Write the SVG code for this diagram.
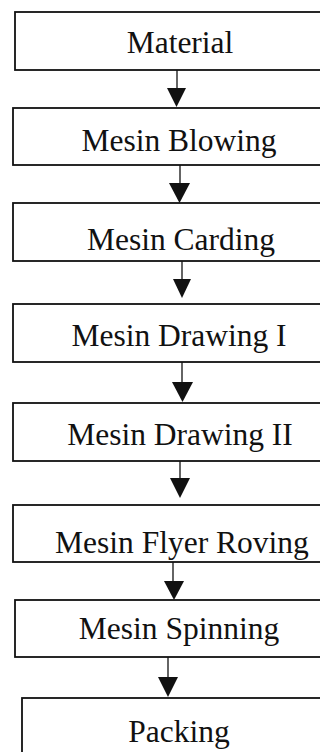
<svg xmlns="http://www.w3.org/2000/svg" width="320" height="752" viewBox="0 0 320 752">
<style>
.box{fill:#fff;stroke:#111;stroke-width:1.8}
.lbl{font-family:"Liberation Serif","Times New Roman",serif;font-size:31.5px;fill:#111;text-anchor:middle}
.ln{stroke:#111;stroke-width:1.3;fill:none}
.hd{fill:#111}
</style>
<rect width="320" height="752" fill="#fff"/>
<g id="connectors">
<line class="ln" x1="177" y1="70" x2="177" y2="90"/><polygon class="hd" points="167,88 186,88 176.5,107"/>
<line class="ln" x1="180" y1="165" x2="180" y2="185"/><polygon class="hd" points="169,183 190,183 179.5,203"/>
<line class="ln" x1="182" y1="261" x2="182" y2="280"/><polygon class="hd" points="173,279 191,279 182,298"/>
<line class="ln" x1="182" y1="362" x2="182" y2="384"/><polygon class="hd" points="172,382 193,382 182.5,402"/>
<line class="ln" x1="180" y1="461" x2="180" y2="480"/><polygon class="hd" points="170,478 190,478 180,498"/>
<line class="ln" x1="173" y1="562" x2="173" y2="583"/><polygon class="hd" points="164,581 184,581 174,600"/>
<line class="ln" x1="168" y1="657" x2="168" y2="679"/><polygon class="hd" points="158,677 178,677 168,697"/>
</g>
<g id="n1"><rect class="box" x="15" y="12" width="320" height="58"/><text class="lbl" x="180" y="53">Material</text></g>
<g id="n2"><rect class="box" x="13" y="108" width="322" height="57"/><text class="lbl" x="179" y="151">Mesin Blowing</text></g>
<g id="n3"><rect class="box" x="13" y="203" width="322" height="58"/><text class="lbl" x="181" y="250">Mesin Carding</text></g>
<g id="n4"><rect class="box" x="13" y="304" width="322" height="58"/><text class="lbl" x="179" y="346">Mesin Drawing I</text></g>
<g id="n5"><rect class="box" x="13" y="403" width="322" height="58"/><text class="lbl" x="180" y="445">Mesin Drawing II</text></g>
<g id="n6"><rect class="box" x="13" y="505" width="322" height="57"/><text class="lbl" x="182" y="553">Mesin Flyer Roving</text></g>
<g id="n7"><rect class="box" x="15" y="600" width="320" height="57"/><text class="lbl" x="179" y="639">Mesin Spinning</text></g>
<g id="n8"><rect class="box" x="22" y="698" width="313" height="70"/><text class="lbl" x="179" y="742">Packing</text></g>
</svg>
